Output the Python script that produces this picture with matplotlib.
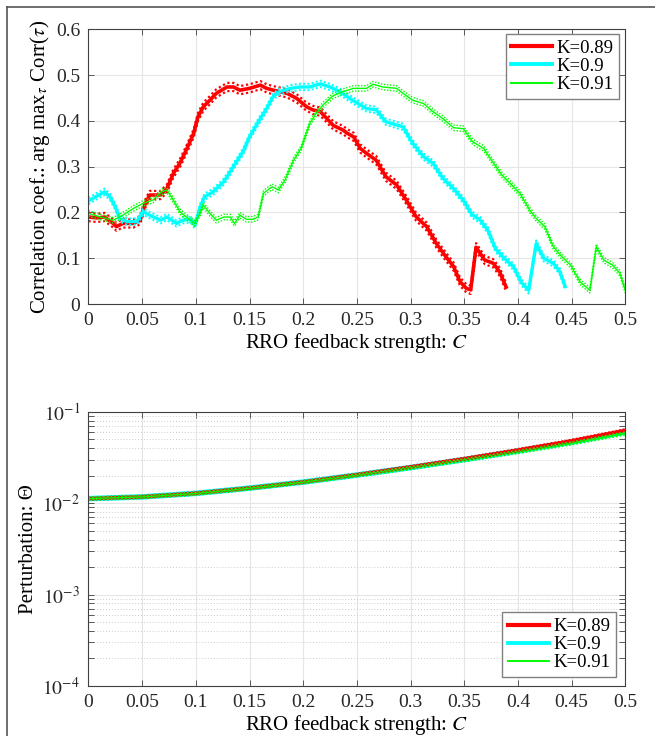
import numpy as np
import matplotlib
matplotlib.use("Agg")
import matplotlib.pyplot as plt
from matplotlib.lines import Line2D
from matplotlib.ticker import FixedLocator, LogLocator, NullFormatter

plt.rcParams['font.family'] = ['Liberation Serif', 'DejaVu Serif']
plt.rcParams['mathtext.fontset'] = 'stix'

labels = ["K=0.89", "K=0.9", "K=0.91"]
colors = ["#ff0000", "#00ffff", "#00ff00"]

# ---- top panel data ----
red_c = [0, 0.008, 0.015, 0.023, 0.026, 0.032, 0.042, 0.048, 0.053, 0.057, 0.067, 0.073, 0.079, 0.085,
         0.091, 0.098, 0.102, 0.107, 0.113, 0.119, 0.129, 0.135, 0.141, 0.150, 0.160, 0.166, 0.172, 0.178,
         0.185, 0.194, 0.203, 0.209, 0.216, 0.228, 0.237, 0.241, 0.247, 0.253, 0.259, 0.268, 0.277, 0.287,
         0.296, 0.305, 0.315, 0.324, 0.333, 0.340, 0.346, 0.352, 0.356, 0.361, 0.369, 0.377, 0.383, 0.389]
red_v = [0.190, 0.188, 0.190, 0.176, 0.169, 0.176, 0.176, 0.183, 0.220, 0.238, 0.238, 0.252, 0.285, 0.307,
         0.336, 0.373, 0.409, 0.431, 0.445, 0.460, 0.474, 0.474, 0.467, 0.471, 0.478, 0.471, 0.467, 0.464,
         0.460, 0.449, 0.431, 0.424, 0.420, 0.390, 0.380, 0.373, 0.365, 0.340, 0.329, 0.314, 0.278, 0.260,
         0.227, 0.191, 0.169, 0.132, 0.103, 0.082, 0.049, 0.034, 0.031, 0.124, 0.096, 0.089, 0.070, 0.037]

cyan_c = [0, 0.008, 0.015, 0.020, 0.025, 0.029, 0.036, 0.045, 0.051, 0.057, 0.067, 0.073, 0.082, 0.088,
          0.095, 0.099, 0.104, 0.108, 0.116, 0.126, 0.135, 0.144, 0.150, 0.160, 0.166, 0.172, 0.178, 0.188,
          0.197, 0.206, 0.216, 0.225, 0.234, 0.246, 0.259, 0.268, 0.277, 0.287, 0.293, 0.302, 0.312, 0.321,
          0.330, 0.340, 0.349, 0.357, 0.365, 0.372, 0.379, 0.386, 0.396, 0.403, 0.410, 0.417, 0.424, 0.433,
          0.439, 0.444]
cyan_v = [0.225, 0.236, 0.245, 0.234, 0.212, 0.187, 0.180, 0.180, 0.202, 0.194, 0.183, 0.190, 0.176, 0.183,
          0.185, 0.172, 0.212, 0.234, 0.245, 0.267, 0.300, 0.333, 0.365, 0.405, 0.427, 0.453, 0.464, 0.471,
          0.474, 0.474, 0.481, 0.474, 0.464, 0.445, 0.427, 0.424, 0.398, 0.391, 0.387, 0.351, 0.322, 0.307,
          0.275, 0.252, 0.227, 0.196, 0.183, 0.161, 0.121, 0.103, 0.081, 0.048, 0.030, 0.132, 0.100, 0.089,
          0.071, 0.038]

green_c = [0, 0.011, 0.023, 0.032, 0.042, 0.051, 0.060, 0.068, 0.073, 0.079, 0.085, 0.091, 0.099, 0.104,
           0.107, 0.113, 0.119, 0.126, 0.132, 0.136, 0.141, 0.147, 0.153, 0.158, 0.163, 0.171, 0.177, 0.183,
           0.191, 0.198, 0.206, 0.212, 0.219, 0.228, 0.237, 0.247, 0.259, 0.265, 0.274, 0.287, 0.293, 0.302,
           0.312, 0.321, 0.330, 0.340, 0.349, 0.358, 0.368, 0.376, 0.385, 0.393, 0.402, 0.411, 0.417, 0.425,
           0.433, 0.441, 0.449, 0.458, 0.467, 0.473, 0.480, 0.488, 0.495, 0.500]
green_v = [0.198, 0.190, 0.183, 0.194, 0.209, 0.220, 0.227, 0.245, 0.249, 0.227, 0.202, 0.190, 0.176, 0.198,
           0.216, 0.198, 0.183, 0.190, 0.190, 0.176, 0.194, 0.185, 0.185, 0.190, 0.242, 0.256, 0.249, 0.271,
           0.314, 0.340, 0.394, 0.416, 0.436, 0.455, 0.464, 0.471, 0.471, 0.480, 0.474, 0.471, 0.460, 0.445,
           0.438, 0.420, 0.405, 0.385, 0.383, 0.354, 0.340, 0.312, 0.282, 0.263, 0.241, 0.205, 0.187, 0.169,
           0.125, 0.103, 0.085, 0.048, 0.030, 0.125, 0.096, 0.085, 0.067, 0.030]

top_spread = [0.009, 0.007, 0.006]
top_lw = [2.6, 2.4, 1.0]
top_dot_lw = [1.6, 1.4, 1.0]

# ---- bottom panel data ----
bot_c = [0, 0.05, 0.1, 0.15, 0.2, 0.25, 0.3, 0.35, 0.4, 0.45, 0.5]
red_p = [0.0112, 0.0117, 0.0128, 0.0146, 0.0170, 0.0204, 0.0248, 0.0305, 0.0380, 0.0480, 0.0625]
cyan_p = [0.0112, 0.0117, 0.0128, 0.0146, 0.0170, 0.0203, 0.0245, 0.0300, 0.0372, 0.0465, 0.0600]
green_p = [0.0112, 0.0117, 0.0127, 0.0145, 0.0169, 0.0201, 0.0242, 0.0295, 0.0362, 0.0450, 0.0578]
bot_rel_spread = [0.035, 0.03, 0.035]

x_ticks = [0, 0.05, 0.1, 0.15, 0.2, 0.25, 0.3, 0.35, 0.4, 0.45, 0.5]
x_ticklabels = ["0", "0.05", "0.1", "0.15", "0.2", "0.25", "0.3", "0.35", "0.4", "0.45", "0.5"]
y_ticks_top = [0, 0.1, 0.2, 0.3, 0.4, 0.5, 0.6]
y_ticklabels_top = ["0", "0.1", "0.2", "0.3", "0.4", "0.5", "0.6"]

W, H = 655, 736
fig = plt.figure(figsize=(W / 100, H / 100), dpi=100)
fig.patch.set_facecolor("white")

def px_axes(l, t, r, b):
    return fig.add_axes([l / W, 1 - b / H, (r - l) / W, (b - t) / H])

ax1 = px_axes(88.5, 29.3, 625.3, 304)
ax2 = px_axes(88.5, 411.7, 625.3, 686)

def style(ax):
    ax.set_facecolor("white")
    for s in ax.spines.values():
        s.set_color("#404040")
        s.set_linewidth(0.8)
    ax.tick_params(direction="in", which="both", top=True, right=True, colors="#404040",
                   labelsize=14, length=4, width=0.6, pad=6, labelcolor="#262626")
    ax.set_axisbelow(True)

# top panel
style(ax1)
tops = [(red_c, red_v), (cyan_c, cyan_v), (green_c, green_v)]
for i, (c, v) in enumerate(tops):
    c = np.array(c); v = np.array(v)
    ax1.plot(c, v + top_spread[i], color=colors[i], lw=top_dot_lw[i], ls=(0, (1, 1.2)))
    ax1.plot(c, v - top_spread[i], color=colors[i], lw=top_dot_lw[i], ls=(0, (1, 1.2)))
    ax1.plot(c, v, color=colors[i], lw=top_lw[i], label=labels[i])
ax1.set_xlim(0, 0.5)
ax1.set_ylim(0, 0.6)
ax1.set_xticks(x_ticks)
ax1.set_xticklabels(x_ticklabels)
ax1.set_yticks(y_ticks_top)
ax1.set_yticklabels(y_ticklabels_top)
ax1.grid(True, color="#e6e6e6", lw=0.8)
ax1.set_xlabel("RRO feedback strength: $C$", fontsize=15, labelpad=1)
ax1.set_ylabel(r"Correlation coef.: arg max$_{\tau}$ Corr($\tau$)", fontsize=15, labelpad=3)
leg_handles = [Line2D([], [], color=colors[i], lw=top_lw[i] + 0.4) for i in range(3)]
leg = ax1.legend(leg_handles, labels, loc="upper right", bbox_to_anchor=(0.988, 0.982), fontsize=13.5,
                 frameon=True, fancybox=False, edgecolor="#808080", framealpha=1,
                 handlelength=2.2, handletextpad=0.2, labelspacing=0.05, borderpad=0.3, borderaxespad=0)
leg.get_frame().set_linewidth(1.0)

# bottom panel
style(ax2)
bots = [red_p, cyan_p, green_p]
bot_lw = [2.5, 4.0, 1.2]
for i in [1, 0, 2]:
    p = np.array(bots[i])
    ax2.plot(bot_c, p, color=colors[i], lw=bot_lw[i])
for i in [0, 2]:
    p = np.array(bots[i])
    ax2.plot(bot_c, p * (1 + bot_rel_spread[i]), color=colors[i], lw=1.2, ls=(0, (1, 1.2)))
    ax2.plot(bot_c, p * (1 - bot_rel_spread[i]), color=colors[i], lw=1.2, ls=(0, (1, 1.2)))
ax2.set_yscale("log")
ax2.set_xlim(0, 0.5)
ax2.set_ylim(1e-4, 1e-1)
ax2.set_xticks(x_ticks)
ax2.set_xticklabels(x_ticklabels)
ax2.yaxis.set_major_locator(FixedLocator([1e-4, 1e-3, 1e-2, 1e-1]))
ax2.set_yticklabels([r"$10^{-4}$", r"$10^{-3}$", r"$10^{-2}$", r"$10^{-1}$"])
ax2.yaxis.set_minor_locator(LogLocator(base=10, subs=np.arange(2, 10)))
ax2.yaxis.set_minor_formatter(NullFormatter())
ax2.grid(True, which="major", color="#e6e6e6", lw=0.8)
ax2.grid(True, which="minor", axis="y", color="#cccccc", lw=0.7, ls=(0, (1, 2)))
ax2.set_xlabel("RRO feedback strength: $C$", fontsize=15, labelpad=1)
ax2.set_ylabel("Perturbation: Θ", fontsize=15, labelpad=3)
leg2 = ax2.legend(leg_handles, labels, loc="lower right", bbox_to_anchor=(0.982, 0.033), fontsize=13.5,
                  frameon=True, fancybox=False, edgecolor="#808080", framealpha=1,
                  handlelength=2.2, handletextpad=0.2, labelspacing=0.05, borderpad=0.3, borderaxespad=0)
leg2.get_frame().set_linewidth(1.0)

# outer frame lines (left and top)
fig.add_artist(Line2D([7 / W, 7 / W], [0, 1 - 7 / H], color="#555555", lw=1.2, transform=fig.transFigure))
fig.add_artist(Line2D([7 / W, 1], [1 - 7 / H, 1 - 7 / H], color="#555555", lw=1.2, transform=fig.transFigure))

fig.savefig("out.png", dpi=100, facecolor="white")
